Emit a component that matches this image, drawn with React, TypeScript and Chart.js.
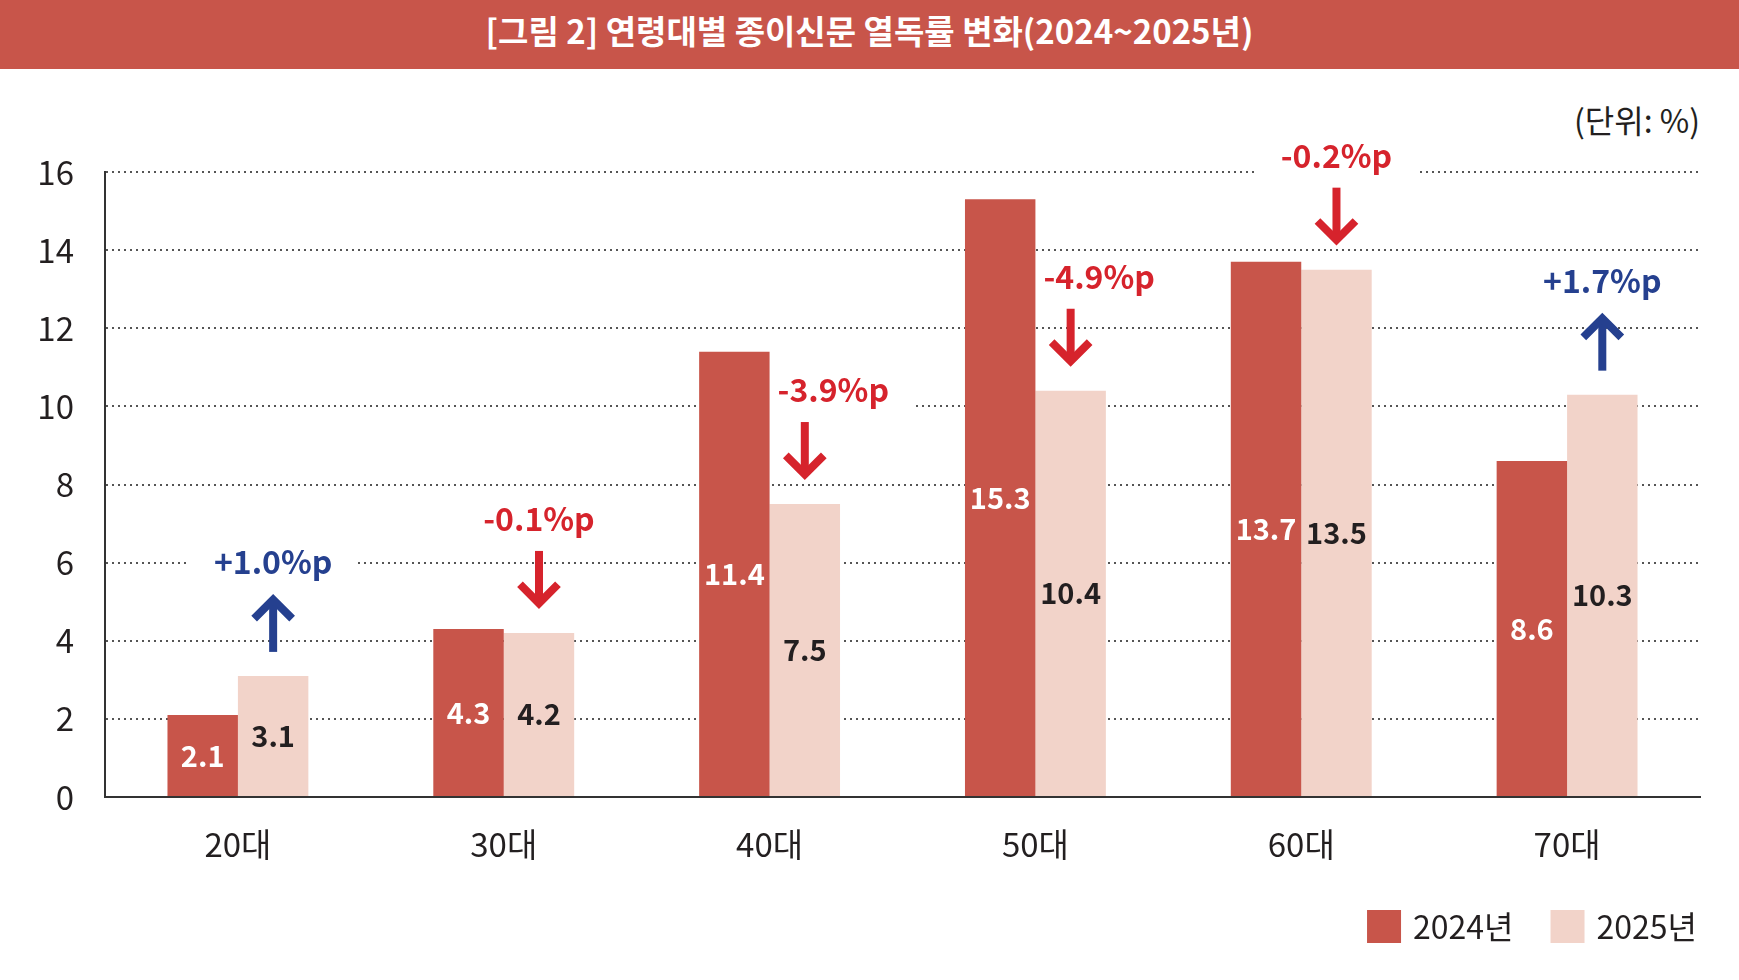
import { useEffect, useRef } from 'react';
import { Chart, registerables } from 'chart.js';

Chart.register(...registerables);

const ageGroups   = ['20대', '30대', '40대', '50대', '60대', '70대'];
const rate2024    = [2.1, 4.3, 11.4, 15.3, 13.7, 8.6];
const rate2025    = [3.1, 4.2, 7.5, 10.4, 13.5, 10.3];
const changePts   = [1.0, -0.1, -3.9, -4.9, -0.2, 1.7];
const seriesNames = ['2024년', '2025년'];
const yMin = 0, yMax = 16, yStep = 2;

const FONT  = "'Noto Sans CJK KR', 'Noto Sans', sans-serif";
const RED   = '#D6232C';
const BLUE  = '#25408F';
const INK   = '#231F20';
const C2024 = '#C8554A';
const C2025 = '#F2D3C9';

// where each change note sits, above the 2025 bar
function notePositions(chart: any) {
  const ctx = chart.ctx as CanvasRenderingContext2D;
  const prev = chart.getDatasetMeta(0).data;
  const cur  = chart.getDatasetMeta(1).data;
  ctx.save();
  ctx.font = `700 32px ${FONT}`;
  const out = changePts.map((v, i) => {
    const bar: any = cur[i];
    const left: any = prev[i];
    const low  = bar.y - 24;
    const high = low - 58;
    const ty   = high - 32;
    const text = (v > 0 ? '+' : '') + v.toFixed(1) + '%p';
    const w    = ctx.measureText(text).width;
    let tx = bar.x;
    const leftEdge = left.x + left.width / 2;
    if (left.y < ty + 20 && tx - w / 2 < leftEdge + 8) tx = leftEdge + 8 + w / 2;
    return { v, x: bar.x, low, high, tx, ty, w, text };
  });
  ctx.restore();
  return out;
}

const notesPlugin = {
  id: 'notes',
  beforeDatasetsDraw(chart: any) {
    const ctx = chart.ctx as CanvasRenderingContext2D;
    ctx.save();
    ctx.fillStyle = '#fff';
    notePositions(chart).forEach(n => {
      ctx.fillRect(n.tx - n.w / 2 - 24, n.ty - 20, n.w + 48, 40);
    });
    ctx.restore();
  },
  afterDatasetsDraw(chart: any) {
    const ctx = chart.ctx as CanvasRenderingContext2D;
    ctx.save();

    // values inside the bars
    ctx.textAlign = 'center';
    ctx.textBaseline = 'middle';
    ctx.font = `700 29px ${FONT}`;
    [0, 1].forEach(d => {
      const ds = chart.data.datasets[d];
      chart.getDatasetMeta(d).data.forEach((bar: any, i: number) => {
        ctx.fillStyle = d === 0 ? '#fff' : INK;
        ctx.fillText(Number(ds.data[i]).toFixed(1), bar.x, (bar.y + bar.base) / 2);
      });
    });

    // change notes and arrows
    notePositions(chart).forEach(n => {
      const col = n.v > 0 ? BLUE : RED;
      ctx.fillStyle = col;
      ctx.strokeStyle = col;
      ctx.font = `700 32px ${FONT}`;
      ctx.fillText(n.text, n.tx, n.ty);

      ctx.lineWidth = 8;
      ctx.lineCap = 'butt';
      ctx.lineJoin = 'miter';
      const up = n.v > 0;
      const tip = up ? n.high : n.low;
      const tail = up ? n.low : n.high;
      const dir = up ? 1 : -1;           // from tip back toward the tail
      const vtx = tip + dir * 5.7;
      ctx.beginPath();
      ctx.moveTo(n.x, tail);
      ctx.lineTo(n.x, vtx + dir * 3);
      ctx.stroke();
      ctx.beginPath();
      ctx.moveTo(n.x - 19, vtx + dir * 19);
      ctx.lineTo(n.x, vtx);
      ctx.lineTo(n.x + 19, vtx + dir * 19);
      ctx.stroke();
    });
    ctx.restore();
  },
  afterDraw(chart: any) {
    // legend, bottom right
    const ctx = chart.ctx as CanvasRenderingContext2D;
    const area = chart.chartArea;
    ctx.save();
    ctx.font = `400 32px ${FONT}`;
    ctx.textBaseline = 'middle';
    ctx.textAlign = 'left';
    const cy = 857;
    let x = area.right - 3;
    const items = chart.data.datasets.map((ds: any) => ({
      label: ds.label, color: ds.backgroundColor, w: ctx.measureText(ds.label).width,
    }));
    for (let i = items.length - 1; i >= 0; i--) {
      const it = items[i];
      x -= it.w;
      ctx.fillStyle = INK;
      ctx.fillText(it.label, x, cy + 1);
      x -= 12 + 34;
      ctx.fillStyle = it.color;
      ctx.fillRect(x, cy - 16, 34, 33);
      x -= 37;
    }
    ctx.restore();
  },
};

export default function App() {
  const canvasRef = useRef<HTMLCanvasElement>(null);
  const chartRef  = useRef<Chart | null>(null);

  useEffect(() => {
    document.body.style.margin = '0';
    if (!canvasRef.current) return;
    if (chartRef.current) { chartRef.current.destroy(); chartRef.current = null; }

    chartRef.current = new Chart(canvasRef.current, {
      type: 'bar',
      data: {
        labels: ageGroups,
        datasets: [
          { label: seriesNames[0], data: rate2024, backgroundColor: C2024 },
          { label: seriesNames[1], data: rate2025, backgroundColor: C2025 },
        ],
      },
      options: {
        animation: false,
        responsive: true,
        maintainAspectRatio: false,
        layout: { padding: { left: 0, right: 39, top: 103, bottom: 0 } },
        datasets: { bar: { categoryPercentage: 0.53, barPercentage: 1 } },
        plugins: {
          legend:  { display: false },
          tooltip: { enabled: false },
        },
        scales: {
          x: {
            grid:   { display: false },
            border: { display: true, color: '#333', width: 2 },
            ticks:  { color: INK, font: { family: FONT, size: 33 }, padding: 20 },
            afterFit: (s: any) => { s.height = 183; },
          },
          y: {
            min: yMin,
            max: yMax,
            grid:   { color: '#555', lineWidth: 2, drawTicks: false },
            border: { display: true, color: '#333', width: 2, dash: [2, 4] },
            ticks:  { stepSize: yStep, color: INK, font: { family: FONT, size: 33 }, padding: 31 },
            afterFit: (s: any) => { s.width = 105; },
          },
        },
      },
      plugins: [notesPlugin],
    });

    return () => { chartRef.current?.destroy(); chartRef.current = null; };
  }, []);

  return (
    <div style={{ position: 'relative', width: 1739, height: 980, background: '#fff', fontFamily: FONT, color: INK }}>
      <div style={{
        height: 69, background: C2024, color: '#fff', fontWeight: 700, fontSize: 33,
        display: 'flex', alignItems: 'center', justifyContent: 'center', paddingBottom: 9, boxSizing: 'border-box',
      }}>
        [그림 2] 연령대별 종이신문 열독률 변화(2024~2025년)
      </div>
      <div style={{ position: 'absolute', right: 39, top: 99, height: 40, lineHeight: '40px', fontSize: 32 }}>
        (단위: %)
      </div>
      <div style={{ position: 'absolute', left: 0, top: 69, width: 1739, height: 911 }}>
        <canvas ref={canvasRef} role="img" aria-label="연령대별 종이신문 열독률 막대 차트" />
      </div>
    </div>
  );
}
